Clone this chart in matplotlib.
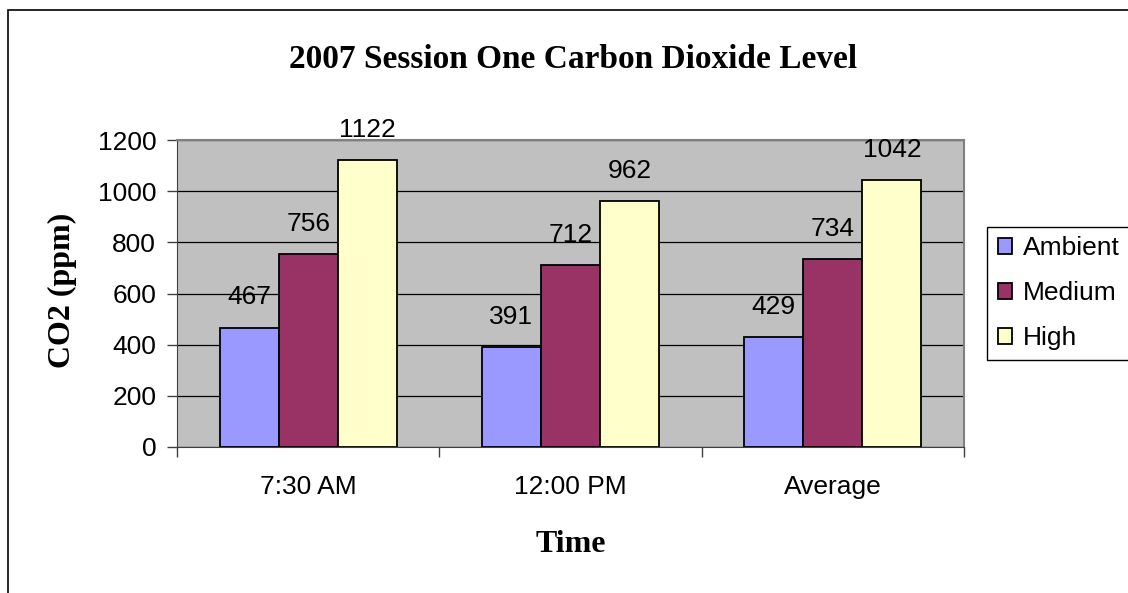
import matplotlib.pyplot as plt
from matplotlib.patches import Rectangle
import numpy as np

times = ['7:30 AM', '12:00 PM', 'Average']
series = ['Ambient', 'Medium', 'High']
ambient = [467, 391, 429]
medium = [756, 712, 734]
high = [1122, 962, 1042]
colors = ['#9999FF', '#993366', '#FFFFCC']

sans = ['Liberation Sans', 'DejaVu Sans']
serif = ['Liberation Serif', 'DejaVu Serif']
fs = 19

fig = plt.figure(figsize=(11.28, 5.93), dpi=100)
ax = fig.add_axes([177 / 1128, 1 - 447 / 593, 787 / 1128, 307 / 593])
ax.set_facecolor('#C0C0C0')

# outer chart frame (runs off the right and bottom edges)
fig.patches.append(Rectangle((8 / 1128, -0.2), 1.2, 1 - 10 / 593 + 0.2,
                             transform=fig.transFigure, fill=False,
                             edgecolor='black', linewidth=1.2, clip_on=False,
                             zorder=-2))

x = np.arange(len(times))
w = 0.225
for i, (name, vals) in enumerate(zip(series, [ambient, medium, high])):
    pos = x + (i - 1) * w
    bars = ax.bar(pos, vals, width=w, color=colors[i], edgecolor='black',
                  linewidth=1.3, label=name, zorder=3)
    for b, v in zip(bars, vals):
        ax.annotate(str(v), (b.get_x() + b.get_width() / 2, v),
                    xytext=(0, 13), textcoords='offset points',
                    ha='center', va='bottom', fontsize=fs, family=sans)

ax.set_ylim(0, 1200)
ax.set_xlim(-0.5, 2.5)
ax.set_yticks(range(0, 1201, 200))
ax.yaxis.grid(True, color='black', linewidth=0.9, zorder=1)
ax.set_axisbelow(True)

# category labels centred, tick marks on category boundaries
ax.set_xticks([-0.5, 0.5, 1.5, 2.5])
ax.set_xticklabels([])
ax.set_xticks(x, minor=True)
ax.set_xticklabels(times, minor=True, fontsize=fs, family=sans)
ax.tick_params(axis='x', which='minor', length=0, pad=20)
ax.tick_params(axis='x', which='major', length=7, width=1, color='#404040')
ax.tick_params(axis='y', length=7, width=1, color='#404040', labelsize=fs, pad=8)
for lab in ax.get_yticklabels():
    lab.set_family(sans)

for s in ['top', 'right']:
    ax.spines[s].set_color('#808080')
    ax.spines[s].set_linewidth(1.5)
ax.spines['left'].set_color('#404040')
ax.spines['bottom'].set_color('#404040')

fig.text(573 / 1128, 1 - 59 / 593, '2007 Session One Carbon Dioxide Level',
         ha='center', va='center', fontsize=24, fontweight='bold', family=serif)
fig.text(62 / 1128, 1 - 290 / 593, 'CO2 (ppm)', rotation=90,
         ha='center', va='center', fontsize=23, fontweight='bold', family=serif)
fig.text(571 / 1128, 1 - 544 / 593, 'Time',
         ha='center', va='center', fontsize=23, fontweight='bold', family=serif)

# legend box is cut off by the right edge of the chart
fig.patches.append(Rectangle((987 / 1128, 1 - 360 / 593), 0.2, 133 / 593,
                             transform=fig.transFigure, facecolor='white',
                             edgecolor='black', linewidth=1, clip_on=False,
                             zorder=-1))
leg = ax.legend(loc='center left', bbox_to_anchor=(990 / 1128, 1 - 293 / 593),
                bbox_transform=fig.transFigure, frameon=False,
                prop={'family': sans, 'size': fs}, handlelength=0.55,
                handleheight=0.55, handletextpad=0.4, labelspacing=0.8,
                borderpad=0.3, borderaxespad=0)

fig.savefig('out.png', dpi=100)
